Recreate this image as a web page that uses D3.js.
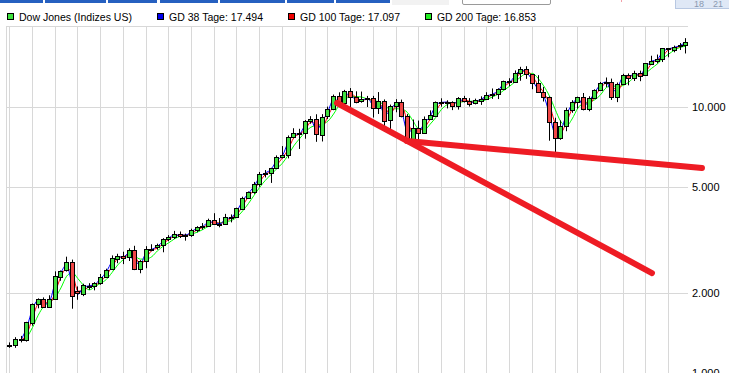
<!DOCTYPE html>
<html>
<head>
<meta charset="utf-8">
<script src="https://cdn.jsdelivr.net/npm/d3@7/dist/d3.min.js"></script>
<style>
body { margin: 0; background: #fff; }
svg { display: block; font-family: "Liberation Sans", Arial, sans-serif; }
</style>
</head>
<body>
<svg id="chart" width="729" height="373"></svg>
<script>
// quarterly candles, Dow Jones 1985 - 2014
const years = [1985, 1986, 1987, 1988, 1989, 1990, 1991, 1992, 1993, 1994,
    1995, 1996, 1997, 1998, 1999, 2000, 2001, 2002, 2003, 2004,
    2005, 2006, 2007, 2008, 2009, 2010, 2011, 2012, 2013, 2014];
const quarters = years.flatMap(y => ["Q1", "Q2", "Q3", "Q4"].map(q => y + " " + q));

const qOpen = [1262, 1267, 1336, 1329, 1547, 1819, 1893, 1768, 1896, 2305, 2419, 2597,
    2030, 1990, 2105, 2113, 2169, 2294, 2440, 2693, 2753, 2707, 2881, 2453,
    2634, 2914, 2960, 3017, 3169, 3236, 3319, 3272, 3301, 3436, 3516, 3555,
    3754, 3636, 3625, 3843, 3834, 4158, 4556, 4789, 5117, 5588, 5655, 5882,
    6448, 6584, 7673, 7945, 7908, 8800, 8952, 7843, 9181, 9786, 10971, 10337,
    11497, 10922, 10448, 10651, 10787, 9879, 10502, 8848, 10022, 10404, 9243, 7592,
    8342, 7992, 8985, 9275, 10454, 10358, 10435, 10080, 10783, 10504, 10275, 10569,
    10718, 11109, 11150, 11679, 12463, 12354, 13409, 13896, 13265, 12263, 11350, 10851,
    8776, 7609, 8447, 9712, 10428, 10857, 9774, 10788, 11578, 12320, 12414, 10913,
    12218, 13212, 12880, 13437, 13104, 14579, 14910, 15130, 16577, 16458, 16827, 17043];
const qHigh = [1300, 1360, 1375, 1553, 1821, 1903, 1919, 1955, 2405, 2422, 2730, 2662,
    2110, 2160, 2170, 2190, 2350, 2460, 2760, 2800, 2850, 2935, 3000, 2650,
    2990, 3040, 3055, 3204, 3290, 3413, 3395, 3333, 3478, 3555, 3652, 3794,
    3978, 3814, 3954, 3936, 4172, 4589, 4801, 5216, 5683, 5778, 5894, 6560,
    7112, 7796, 8300, 8259, 8906, 9212, 9367, 9374, 10006, 11107, 11326, 11569,
    11750, 11425, 11401, 10977, 10983, 11350, 10650, 10184, 10673, 10635, 9380, 8950,
    8869, 9188, 9686, 10462, 10754, 10570, 10480, 10868, 10985, 10770, 10720, 10940,
    11335, 11709, 11727, 12529, 12796, 13692, 14122, 14198, 13279, 13137, 11868, 10919,
    9088, 8878, 9917, 10580, 10908, 11258, 10948, 11625, 12391, 12876, 12753, 12328,
    13297, 13338, 13653, 13661, 14585, 15542, 15709, 16588, 16588, 16970, 17350, 18100];
const qLow = [1240, 1240, 1300, 1309, 1502, 1746, 1755, 1755, 1896, 2216, 2400, 1740,
    1880, 1940, 2050, 2040, 2140, 2290, 2430, 2580, 2560, 2630, 2430, 2365,
    2470, 2860, 2900, 2836, 3120, 3181, 3210, 3136, 3241, 3370, 3449, 3536,
    3593, 3520, 3620, 3674, 3832, 4150, 4550, 4703, 5000, 5420, 5170, 5880,
    6390, 6392, 7620, 6936, 7580, 8627, 7379, 7400, 8994, 9700, 10321, 9884,
    9731, 10300, 10356, 9975, 9106, 9390, 8062, 8235, 9529, 9120, 7532, 7197,
    7416, 7992, 8931, 9250, 10000, 9852, 9708, 9750, 10368, 10012, 10200, 10156,
    10661, 10700, 10683, 11670, 11939, 12280, 12518, 12725, 11634, 11288, 10459, 7450,
    6470, 7509, 8087, 9487, 9835, 9686, 9614, 10712, 11555, 11862, 10604, 10404,
    12150, 12035, 12492, 12471, 13104, 14400, 14551, 14719, 15340, 16015, 16333, 15855];
const qClose = [1267, 1336, 1329, 1547, 1819, 1893, 1768, 1896, 2305, 2419, 2597, 1939,
    1990, 2142, 2113, 2169, 2294, 2440, 2693, 2753, 2707, 2881, 2453, 2634,
    2914, 2907, 3017, 3169, 3236, 3319, 3272, 3301, 3436, 3516, 3555, 3754,
    3636, 3625, 3843, 3834, 4158, 4556, 4789, 5117, 5588, 5655, 5882, 6448,
    6584, 7673, 7945, 7908, 8800, 8952, 7843, 9181, 9786, 10971, 10337, 11497,
    10922, 10448, 10651, 10787, 9879, 10502, 8848, 10022, 10404, 9243, 7592, 8342,
    7992, 8985, 9275, 10454, 10358, 10435, 10080, 10783, 10504, 10275, 10569, 10718,
    11109, 11150, 11679, 12463, 12354, 13409, 13896, 13265, 12263, 11350, 10851, 8776,
    7609, 8447, 9712, 10428, 10857, 9774, 10788, 11578, 12320, 12414, 10913, 12218,
    13212, 12880, 13437, 13104, 14579, 14910, 15130, 16577, 16458, 16827, 17043, 17450];

// moving averages (GD 38 / 100 / 200 Tage), one value per quarter
const gd38 = [null, null, 1331, 1482, 1737, 1871, 1806, 1858, 2182, 2385, 2544, 2136,
    1973, 2096, 2122, 2152, 2257, 2396, 2617, 2735, 2721, 2829, 2581, 2580,
    2830, 2909, 2984, 3123, 3216, 3294, 3286, 3292, 3396, 3492, 3543, 3694,
    3671, 3628, 3778, 3837, 4061, 4437, 4719, 5019, 5447, 5635, 5814, 6278,
    6543, 7346, 7863, 7919, 8532, 8906, 8176, 8780, 9605, 10616, 10527, 11149,
    11095, 10590, 10590, 10746, 10151, 10315, 9344, 9670, 10289, 9591, 8087, 8117,
    8097, 8687, 9188, 10100, 10387, 10412, 10187, 10572, 10588, 10344, 10481, 10673,
    10992, 11138, 11520, 12228, 12387, 13093, 13750, 13454, 12564, 11624, 11001, 9399,
    7959, 8196, 9333, 10213, 10728, 10099, 10484, 11341, 12097, 12386, 11363, 11827,
    12914, 12980, 13270, 13204, 14137, 14811, 15064, 16143, 16494, 16716, 16978, 17494];
const gd100 = [null, null, 1326, 1398, 1607, 1812, 1846, 1822, 2009, 2295, 2461, 2373,
    2026, 2031, 2116, 2133, 2202, 2325, 2502, 2684, 2732, 2766, 2729, 2556,
    2701, 2881, 2942, 3052, 3173, 3255, 3295, 3286, 3340, 3446, 3519, 3613,
    3695, 3646, 3694, 3816, 3935, 4245, 4584, 4865, 5227, 5557, 5718, 6032,
    6428, 6907, 7637, 7904, 8189, 8749, 8591, 8380, 9222, 10086, 10644, 10767,
    11191, 10838, 10563, 10671, 10491, 10172, 9920, 9394, 10011, 10002, 8859, 8007,
    8150, 8339, 8966, 9608, 10294, 10393, 10317, 10337, 10620, 10464, 10391, 10583,
    10823, 11079, 11309, 11864, 12343, 12693, 13444, 13646, 13023, 12090, 11295, 10263,
    8642, 7997, 8747, 9795, 10482, 10474, 10207, 10921, 11721, 12267, 11939, 11483,
    12382, 13000, 13090, 13273, 13598, 14520, 14942, 15555, 16381, 16585, 16853, 17097];
const gd200 = [null, null, null, 1354, 1479, 1644, 1779, 1840, 1922, 2083, 2304, 2377,
    2257, 2128, 2048, 2107, 2168, 2242, 2380, 2541, 2663, 2749, 2734, 2673,
    2677, 2730, 2872, 2988, 3080, 3185, 3257, 3287, 3321, 3375, 3455, 3553,
    3626, 3658, 3694, 3733, 3848, 4057, 4320, 4640, 4976, 5287, 5562, 5845,
    6131, 6574, 7123, 7574, 8021, 8372, 8515, 8616, 8817, 9385, 10130, 10616,
    10940, 10915, 10862, 10677, 10538, 10438, 10112, 9783, 9825, 9780, 9518, 8833,
    8248, 8185, 8592, 9111, 9768, 10182, 10368, 10373, 10454, 10476, 10512, 10497,
    10651, 10890, 11142, 11529, 11934, 12427, 12968, 13330, 13347, 12789, 11973, 10985,
    9795, 8802, 8463, 8994, 9864, 10318, 10425, 10620, 11079, 11790, 11980, 11902,
    12020, 12374, 12947, 13174, 13411, 13941, 14475, 15191, 15767, 16291, 16709, 16853];

// hand drawn trend lines: [start quarter index, start value, end quarter index, end value]
const trendLines = [
    [57.7, 10325, 113.15, 2370],
    [70.0, 7430, 121.95, 5880]
];

const yTicks = [1000, 2000, 5000, 10000];
const yTickLabels = ["1.000", "2.000", "5.000", "10.000"];

const legendNames = ["Dow Jones (Indizes US)", "GD 38 Tage: 17.494", "GD 100 Tage: 17.097", "GD 200 Tage: 16.853"];
const legendColors = ["#3ee23e", "#0000ee", "#ee0000", "#22ee22"];

const svg = d3.select("#chart");

// top strip (tabs of the surrounding page)
const tabs = [[0, 43], [45, 106], [108, 157], [160, 218], [220, 285], [287, 334], [336, 390]];
svg.selectAll("rect.tab")
    .data(tabs)
    .join("rect")
    .attr("class", "tab")
    .attr("x", d => d[0])
    .attr("y", 0)
    .attr("width", d => d[1] - d[0])
    .attr("height", 3)
    .attr("fill", "#2660c0");
svg.append("rect").attr("x", 392).attr("y", 0).attr("width", 57).attr("height", 5).attr("fill", "#f2f2f2");
svg.append("rect").attr("x", 462.5).attr("y", -3).attr("width", 88).attr("height", 7.5)
    .attr("rx", 1.5).attr("fill", "#fff").attr("stroke", "#9a9a9a");
svg.append("rect").attr("x", 621).attr("y", 0).attr("width", 1).attr("height", 2).attr("fill", "#f3a0a8");
svg.append("rect").attr("x", 675.5).attr("y", -1).attr("width", 55).attr("height", 9.5)
    .attr("fill", "#dfe8f6").attr("stroke", "#b8c8e2");
svg.selectAll("text.cal")
    .data([["18", 694], ["21", 713]])
    .join("text")
    .attr("class", "cal")
    .attr("x", d => d[1])
    .attr("y", 7)
    .attr("font-size", "9px")
    .attr("fill", "#8a98b0")
    .text(d => d[0]);

// legend
const legendW = [113, 94, 100, 99];
let lx = 7;
legendNames.forEach(function (name, i) {
    svg.append("rect")
        .attr("x", lx + 0.5)
        .attr("y", 13.5)
        .attr("width", 6)
        .attr("height", 6)
        .attr("fill", legendColors[i])
        .attr("stroke", "#000");
    svg.append("text")
        .attr("x", lx + 12)
        .attr("y", 21)
        .attr("font-size", "11px")
        .attr("fill", "#000")
        .attr("textLength", legendW[i])
        .attr("lengthAdjust", "spacingAndGlyphs")
        .text(name);
    lx = lx + 12 + legendW[i] + 25;
});

// scales
const x = d3.scaleLinear().domain([0, quarters.length - 1]).range([9.3, 685.2]);
const y = d3.scaleLog().domain([1000, 10000]).range([372.7, 106.7]);
const px = v => Math.round(v) + 0.5;

const plotLeft = 6, plotRight = 688, plotTop = 26, plotBottom = 380;

// grid
const grid = svg.append("g").attr("stroke", "#d8d8d8").attr("stroke-width", 1);
grid.selectAll("line.v")
    .data(years)
    .join("line")
    .attr("class", "v")
    .attr("x1", (d, i) => px(x(i * 4)))
    .attr("x2", (d, i) => px(x(i * 4)))
    .attr("y1", plotTop)
    .attr("y2", plotBottom);
grid.selectAll("line.h")
    .data(yTicks)
    .join("line")
    .attr("class", "h")
    .attr("x1", plotLeft)
    .attr("x2", plotRight)
    .attr("y1", d => px(y(d)))
    .attr("y2", d => px(y(d)));
grid.append("line").attr("x1", plotLeft).attr("x2", plotRight).attr("y1", plotTop + 0.5).attr("y2", plotTop + 0.5);
grid.append("line").attr("x1", plotLeft + 0.5).attr("x2", plotLeft + 0.5).attr("y1", plotTop).attr("y2", plotBottom);

// y labels
svg.selectAll("text.ytick")
    .data(yTicks)
    .join("text")
    .attr("class", "ytick")
    .attr("x", 692)
    .attr("y", d => y(d) + 4)
    .attr("font-size", "11px")
    .attr("fill", "#000")
    .text((d, i) => yTickLabels[i]);

// moving averages behind the candles
const maLine = d3.line()
    .defined(d => d != null)
    .x((d, i) => x(i) + 0.5)
    .y(d => y(d))
    .curve(d3.curveMonotoneX);
[[gd200, "#00ff00"], [gd100, "#ff0000"], [gd38, "#0000ff"]].forEach(function (s) {
    svg.append("path")
        .datum(s[0])
        .attr("fill", "none")
        .attr("stroke", s[1])
        .attr("stroke-width", 1)
        .attr("d", maLine);
});

// candles
const candle = svg.selectAll("g.candle")
    .data(quarters)
    .join("g")
    .attr("class", "candle");
candle.append("line")
    .attr("x1", (d, i) => px(x(i)))
    .attr("x2", (d, i) => px(x(i)))
    .attr("y1", (d, i) => y(qHigh[i]))
    .attr("y2", (d, i) => y(qLow[i]))
    .attr("stroke", "#000")
    .attr("stroke-width", 1);
candle.append("rect")
    .attr("x", (d, i) => Math.round(x(i)) - 1.5)
    .attr("width", 4)
    .attr("y", (d, i) => Math.round(y(Math.max(qOpen[i], qClose[i]))) + 0.5)
    .attr("height", (d, i) => Math.max(1, Math.round(Math.abs(y(qOpen[i]) - y(qClose[i])))))
    .attr("fill", (d, i) => qClose[i] >= qOpen[i] ? "#40e040" : "#f04646")
    .attr("stroke", "#000")
    .attr("stroke-width", 1);

// trend lines
svg.selectAll("line.trend")
    .data(trendLines)
    .join("line")
    .attr("class", "trend")
    .attr("x1", d => x(d[0]))
    .attr("y1", d => y(d[1]))
    .attr("x2", d => x(d[2]))
    .attr("y2", d => y(d[3]))
    .attr("stroke", "#ee1c24")
    .attr("stroke-width", 6)
    .attr("stroke-linecap", "round");
</script>
</body>
</html>
